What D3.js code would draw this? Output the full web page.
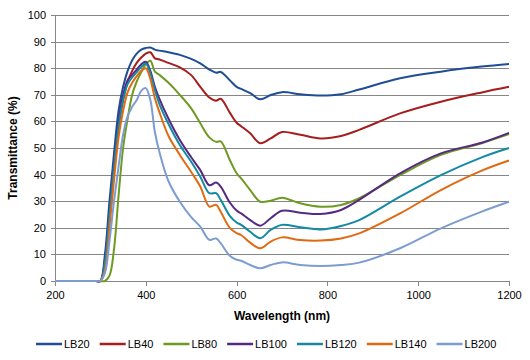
<!DOCTYPE html>
<html>
<head>
<meta charset="utf-8">
<script src="https://d3js.org/d3.v7.min.js"></script>
<style>
    body { margin: 0; background: #fff; }
    svg text { font-family: "Liberation Sans", Arial, sans-serif; fill: #000; }
    .grid line { stroke: #868686; stroke-width: 1px; shape-rendering: crispEdges; }
    .axis path, .axis line { stroke: #868686; shape-rendering: crispEdges; }
    .axis text { font-size: 11px; }
    .series { fill: none; stroke-width: 2px; }
</style>
</head>
<body>
<svg width="530" height="360"></svg>
<script>
    // wavelength (nm) shared by all series
    var wavelengths = [200, 290, 300, 310, 320, 330, 340, 350, 360, 370, 380, 390, 400, 410, 420, 430, 450, 475, 500, 520, 540, 555, 565, 585, 600, 610, 630, 652, 675, 700, 740, 785, 830, 870, 960, 1050, 1140, 1200];

    var lb20  = [0, 0, 0, 10, 30, 48, 64, 73, 79, 83, 85.5, 87, 87.6, 87.8, 87, 86.6, 86, 85, 83.5, 81.8, 79.5, 78.3, 78.6, 75.5, 73, 72.2, 70.6, 68.3, 69.9, 71, 70.2, 69.7, 70.2, 72, 76.2, 78.7, 80.6, 81.6];
    var lb40  = [0, 0, 0, 6, 24, 42, 58, 68, 75, 79, 82, 84, 85.5, 86, 83.7, 83.3, 82, 80.3, 77.4, 73, 69, 67.8, 68.5, 63.3, 59.5, 58.2, 55.5, 51.8, 53.6, 56, 55, 53.6, 54.5, 56.8, 63, 67.4, 70.9, 73];
    var lb80  = [0, 0, 0, 0, 2, 12, 32, 50, 61, 70, 75, 78.5, 81.5, 82.8, 78.7, 77.5, 74.5, 70, 64.9, 59.3, 54, 52.3, 52.5, 45.5, 40.5, 38.6, 34.2, 29.8, 30.2, 31.3, 29.2, 27.9, 28.6, 31.1, 39.8, 47.4, 51.8, 55.2];
    var lb100 = [0, 0, 0, 8, 27, 45, 60, 70, 75.5, 77.5, 79.5, 81.5, 82.4, 79, 73, 68.5, 61, 53, 46.5, 41.7, 36, 37, 35.5, 29.5, 26.5, 25.4, 22.9, 20.8, 23.6, 26.4, 25.7, 25.2, 26.7, 30.5, 40.5, 48, 52, 55.7];
    var lb120 = [0, 0, 0, 7, 25, 43, 58, 68, 74, 76.5, 78.5, 80.5, 81.8, 78, 71.8, 66.5, 59, 51.1, 44.8, 39.2, 33, 33, 30.5, 24.5, 22, 21.1, 18.5, 16.1, 19.2, 21.1, 20.2, 19.4, 20.7, 22.9, 31.7, 39.8, 46.5, 50];
    var lb140 = [0, 0, 0, 4, 20, 38, 54, 64, 71, 74.5, 77, 79, 80, 76, 68.7, 63.5, 54.5, 47.4, 41, 35.5, 28, 28.6, 26, 20, 18, 17.3, 14.4, 12.3, 14.8, 16.4, 15.4, 15.2, 16, 17.9, 25.4, 34.2, 41.5, 45.3];
    var lb200 = [0, 0, 0, 3, 15, 30, 43, 55, 62, 65.5, 68, 71.5, 72.5, 68, 56, 48.5, 37.5, 29.8, 24, 20.4, 15.5, 16, 14.2, 9.5, 8, 7.6, 6, 4.8, 6, 7, 6, 5.6, 6, 6.9, 12.3, 19.8, 26.1, 29.8];

    var seriesNames = ["LB20", "LB40", "LB80", "LB100", "LB120", "LB140", "LB200"];
    var seriesValues = [lb20, lb40, lb80, lb100, lb120, lb140, lb200];
    var colors = ["#1f4e96", "#a51d1d", "#6f9a21", "#562a80", "#148aa2", "#e06a12", "#7c9dd0"];

    var xTicks = [200, 400, 600, 800, 1000, 1200];
    var yTicks = [0, 10, 20, 30, 40, 50, 60, 70, 80, 90, 100];

    var svg = d3.select("svg"),
        margin = {top: 15, right: 21, bottom: 79, left: 55},
        width = +svg.attr("width") - margin.left - margin.right,
        height = +svg.attr("height") - margin.top - margin.bottom;

    var x = d3.scaleLinear().domain([200, 1200]).range([0, width]);
    var y = d3.scaleLinear().domain([0, 100]).range([height, 0]);

    var g = svg.append("g")
        .attr("transform", "translate(" + margin.left + "," + margin.top + ")");

    // horizontal gridlines
    g.append("g")
        .attr("class", "grid")
        .selectAll("line")
        .data(yTicks.slice(1))
        .enter().append("line")
        .attr("x1", 0)
        .attr("x2", width)
        .attr("y1", function (d) { return Math.round(y(d)) + 0.5; })
        .attr("y2", function (d) { return Math.round(y(d)) + 0.5; });

    g.append("g")
        .attr("class", "axis")
        .call(d3.axisLeft(y).tickValues(yTicks).tickSize(4).tickPadding(5));

    g.append("g")
        .attr("class", "axis")
        .attr("transform", "translate(0," + height + ")")
        .call(d3.axisBottom(x).tickValues(xTicks).tickFormat(d3.format("d"))
            .tickSize(5).tickPadding(5).tickSizeOuter(0));

    g.selectAll(".axis .domain").attr("stroke", "#868686");

    var line = d3.line()
        .x(function (d) { return x(d[0]); })
        .y(function (d) { return y(d[1]); })
        .curve(d3.curveCatmullRom.alpha(0.5));

    seriesValues.forEach(function (vals, i) {
        var pts = wavelengths.map(function (w, j) { return [w, vals[j]]; });
        g.append("path")
            .attr("class", "series")
            .attr("stroke", colors[i])
            .attr("d", line(pts));
    });

    // axis titles
    svg.append("text")
        .attr("x", margin.left + width / 2)
        .attr("y", 320)
        .attr("text-anchor", "middle")
        .style("font-size", "12px")
        .style("font-weight", "bold")
        .text("Wavelength (nm)");

    svg.append("text")
        .attr("transform", "translate(17," + (margin.top + height / 2) + ") rotate(-90)")
        .attr("text-anchor", "middle")
        .style("font-size", "12px")
        .style("font-weight", "bold")
        .text("Transmittance (%)");

    // legend
    var legend = svg.append("g").attr("transform", "translate(36,344)");
    var lx = 0;
    seriesNames.forEach(function (name, i) {
        var item = legend.append("g").attr("transform", "translate(" + lx + ",0)");
        item.append("line")
            .attr("x1", 0).attr("x2", 26)
            .attr("stroke", colors[i])
            .attr("stroke-width", 2.5);
        var t = item.append("text")
            .attr("x", 28)
            .attr("dy", "0.35em")
            .style("font-size", "11px")
            .text(name);
        lx += 28 + t.node().getComputedTextLength() + 10;
    });
</script>
</body>
</html>
